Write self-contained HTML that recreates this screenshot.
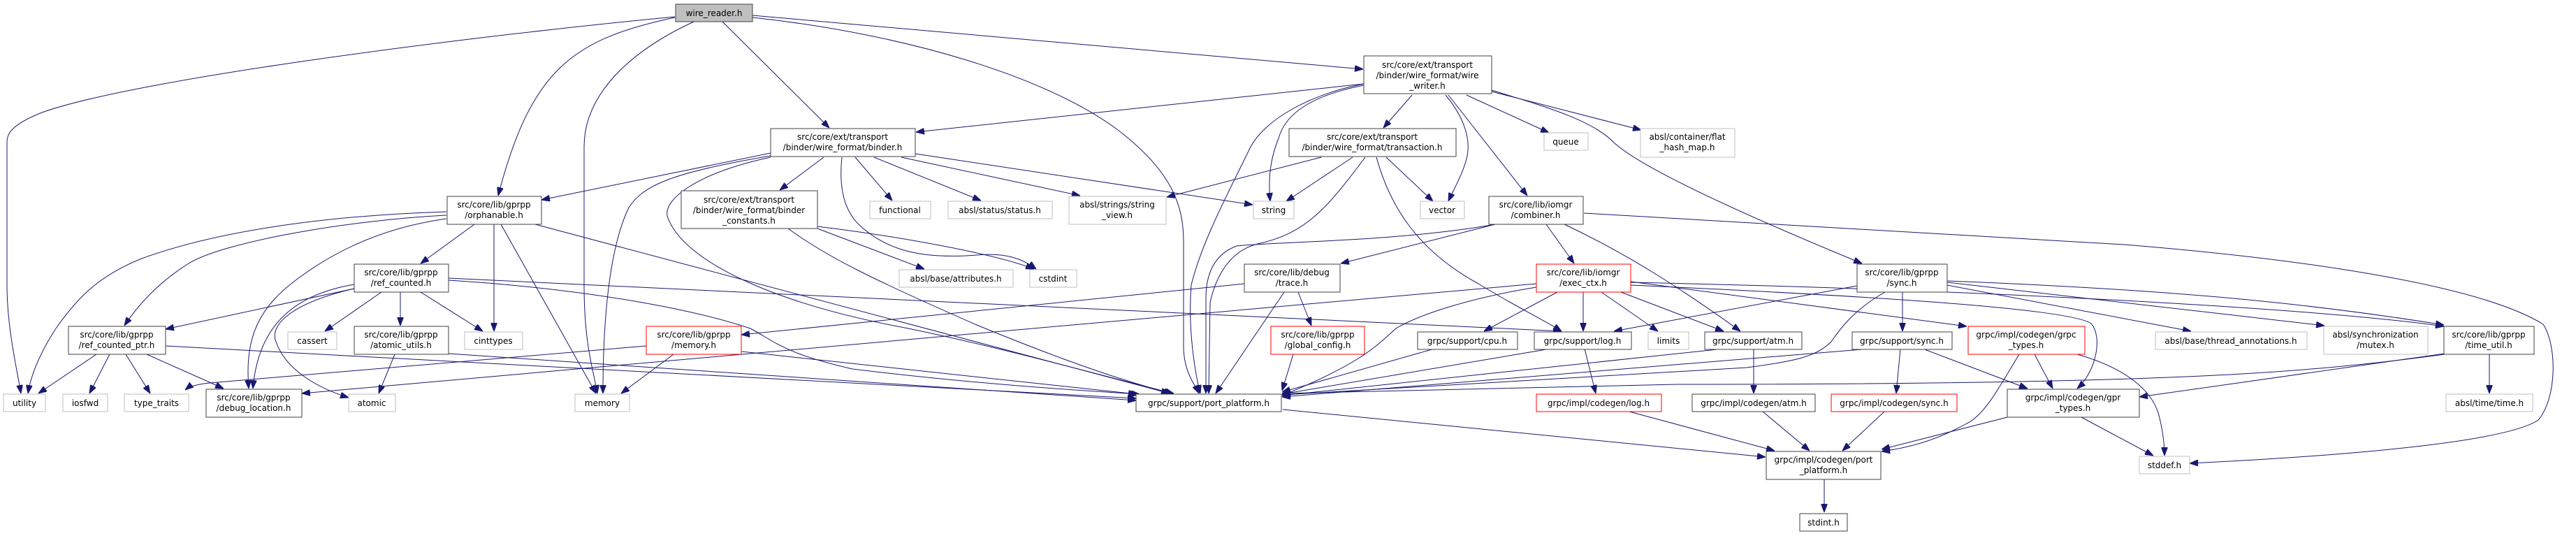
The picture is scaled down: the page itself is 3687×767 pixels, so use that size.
<!DOCTYPE html>
<html><head><meta charset="utf-8"><style>
html,body{margin:0;padding:0;background:#fff;}
svg{display:block;}
text{font-family:"DejaVu Sans","Liberation Sans",sans-serif;font-size:12px;fill:#000;text-anchor:middle;}
.e{fill:none;stroke:#191970;stroke-width:1;marker-end:url(#a);}
.n{fill:#fff;stroke:#404040;stroke-width:1;}
.g{fill:#fff;stroke:#bfbfbf;stroke-width:1;}
.r{fill:#fff;stroke:#ff0000;stroke-width:1;}
</style></head><body>
<svg width="3687" height="767" viewBox="0 0 3687 767" xmlns="http://www.w3.org/2000/svg">
<defs><marker id="a" markerWidth="12" markerHeight="9" refX="12" refY="4.5" orient="auto" markerUnits="userSpaceOnUse"><path d="M0,0 L12,4.5 L0,9 z" fill="#191970" stroke="#191970"/></marker></defs>
<g>
<path class="e" d="M966,24 C700,49 200,111 60,161 C15,179 10,192 10,204 L10,408 C10,470 25,532 30,563"/>
<path class="e" d="M966,25 C820,56 760,99 713,280"/>
<path class="e" d="M993,31 C900,74 836,136 836,210 L836,408 C836,495 850,532 855,563"/>
<path class="e" d="M1034,31 L1187,183"/>
<path class="e" d="M1077,25 C1300,49 1500,111 1600,186 C1680,247 1694,297 1694,346 L1694,495 C1694,532 1710,550 1716,563"/>
<path class="e" d="M1077,22 L1951,99"/>
<path class="e" d="M1103,219 L775,286"/>
<path class="e" d="M1103,223 C960,247 920,266 900,297 C870,359 863,470 863,563"/>
<path class="e" d="M1103,225 C1000,247 950,284 955,309 C975,371 1100,433 1300,470 C1450,501 1600,544 1680,563"/>
<path class="e" d="M1179,225 L1116,272"/>
<path class="e" d="M1224,225 L1277,287"/>
<path class="e" d="M1251,225 L1404,287"/>
<path class="e" d="M1290,225 L1546,280"/>
<path class="e" d="M1310,220 L1793,293"/>
<path class="e" d="M1205,225 C1200,272 1210,303 1230,322 C1270,359 1320,371 1398,365 C1440,361 1465,371 1483,385"/>
<path class="e" d="M1170,327 L1323,385"/>
<path class="e" d="M1170,324 C1300,340 1430,365 1480,385"/>
<path class="e" d="M1128,327 C1180,365 1240,396 1398,465 C1500,507 1600,544 1678,563"/>
<path class="e" d="M679,321 L602,377"/>
<path class="e" d="M707,321 L707,474"/>
<path class="e" d="M717,321 L853,563"/>
<path class="e" d="M766,321 L1674,563"/>
<path class="e" d="M639,308 C500,315 320,346 270,377 C230,402 200,433 178,466"/>
<path class="e" d="M639,303 C450,309 300,334 200,371 C140,396 110,427 80,470 C60,501 45,532 40,563"/>
<path class="e" d="M639,313 C560,324 490,352 430,396 C370,439 350,482 356,556"/>
<path class="e" d="M507,413 L237,471"/>
<path class="e" d="M546,418 L465,474"/>
<path class="e" d="M573,418 L573,466"/>
<path class="e" d="M602,418 L691,474"/>
<path class="e" d="M507,407 C430,420 370,458 362,556"/>
<path class="e" d="M507,413 C420,433 385,464 395,489 C410,532 460,557 499,569"/>
<path class="e" d="M642,398 L2235,474"/>
<path class="e" d="M642,401 C850,414 1000,445 1074,470 C1110,489 1120,505 1220,528 C1400,550 1550,559 1631,564"/>
<path class="e" d="M138,507 L55,563"/>
<path class="e" d="M157,507 L128,563"/>
<path class="e" d="M180,507 L215,563"/>
<path class="e" d="M210,507 L320,556"/>
<path class="e" d="M237,495 L1626,570"/>
<path class="e" d="M565,507 L542,563"/>
<path class="e" d="M642,506 L1626,573"/>
<path class="e" d="M925,495 L300,548 C280,550 270,554 265,558"/>
<path class="e" d="M964,507 L889,563"/>
<path class="e" d="M1061,503 L1627,564"/>
<path class="e" d="M1781,406 L1061,479"/>
<path class="e" d="M1858,418 L1877,466"/>
<path class="e" d="M1838,418 L1740,563"/>
<path class="e" d="M2140,321 L1919,377"/>
<path class="e" d="M2213,321 L2253,377"/>
<path class="e" d="M2140,321 C2000,346 1820,346 1770,352 C1735,365 1726,396 1726,427 L1726,563"/>
<path class="e" d="M2239,321 C2320,359 2400,408 2491,474"/>
<path class="e" d="M2267,305 L3040,350 C3300,371 3550,408 3640,464 C3660,495 3660,569 3633,601 C3580,637 3300,655 3134,663"/>
<path class="e" d="M2229,418 L2124,474"/>
<path class="e" d="M2266,418 L2266,474"/>
<path class="e" d="M2292,418 L2373,474"/>
<path class="e" d="M2199,411 C2100,427 2030,451 1998,470 C1970,495 1950,519 1835,566"/>
<path class="e" d="M2199,406 L432,563"/>
<path class="e" d="M2320,418 L2467,474"/>
<path class="e" d="M2334,403 L2815,467"/>
<path class="e" d="M2334,408 C2600,420 2960,439 2993,463 C3010,482 3000,532 2973,556"/>
<path class="e" d="M2334,404 C2800,414 3300,439 3498,467"/>
<path class="e" d="M1952,120 L1311,189"/>
<path class="e" d="M2021,136 L1980,183"/>
<path class="e" d="M1952,122 C1880,136 1840,161 1830,198 C1815,235 1816,266 1818,288"/>
<path class="e" d="M1952,120 C1870,136 1810,173 1790,210 C1760,272 1720,346 1705,408 C1700,470 1710,532 1718,563"/>
<path class="e" d="M2069,136 C2095,167 2105,198 2100,223 C2095,247 2080,272 2073,288"/>
<path class="e" d="M2073,136 L2186,280"/>
<path class="e" d="M2099,136 L2217,190"/>
<path class="e" d="M2135,131 L2349,186"/>
<path class="e" d="M2135,129 C2220,155 2280,173 2310,204 C2350,241 2500,309 2665,377"/>
<path class="e" d="M1891,225 L1670,282"/>
<path class="e" d="M1936,225 L1841,288"/>
<path class="e" d="M1984,225 L2051,288"/>
<path class="e" d="M1954,225 C1900,297 1870,334 1800,349 C1760,359 1740,396 1732,433 L1730,563"/>
<path class="e" d="M1970,225 C1990,297 2030,359 2116,406 C2170,439 2210,458 2235,474"/>
<path class="e" d="M1851,507 L1835,559"/>
<path class="e" d="M2053,499 L1835,561"/>
<path class="e" d="M2219,499 L1835,564"/>
<path class="e" d="M2268,499 L2284,563"/>
<path class="e" d="M2467,499 L1835,566"/>
<path class="e" d="M2510,499 L2510,563"/>
<path class="e" d="M2677,499 L1835,568"/>
<path class="e" d="M2720,499 L2714,563"/>
<path class="e" d="M2752,499 L2902,556"/>
<path class="e" d="M2723,418 L2723,474"/>
<path class="e" d="M2698,418 C2650,445 2630,476 2621,489 C2600,510 2570,517 2500,526 L1835,565"/>
<path class="e" d="M2658,409 L2310,474"/>
<path class="e" d="M2787,408 L3136,474"/>
<path class="e" d="M2787,404 L3327,466"/>
<path class="e" d="M2787,402 C3100,414 3300,433 3498,465"/>
<path class="e" d="M2890,507 C2860,557 2840,594 2815,606 C2770,631 2730,641 2693,646"/>
<path class="e" d="M2912,507 L2938,556"/>
<path class="e" d="M2973,507 C3040,526 3080,557 3090,594 C3096,618 3098,637 3098,652"/>
<path class="e" d="M2877,596 L2693,643"/>
<path class="e" d="M2977,596 L3082,652"/>
<path class="e" d="M3499,506 L3062,568"/>
<path class="e" d="M3499,507 C3300,534 3100,550 2400,550 L1835,563"/>
<path class="e" d="M3563,507 L3563,563"/>
<path class="e" d="M2332,589 L2540,645"/>
<path class="e" d="M2523,589 L2590,645"/>
<path class="e" d="M2697,589 L2637,645"/>
<path class="e" d="M1836,586 L2527,654"/>
<path class="e" d="M2611,685 L2611,733"/>
</g>
<g>
<rect class="n" x="967" y="6" width="110" height="25" style="fill:#bfbfbf"/><text x="1022" y="23">wire_reader.h</text>
<rect class="n" x="1952" y="80" width="183" height="54"/><text x="2043" y="97">src/core/ext/transport</text><text x="2043" y="112">/binder/wire_format/wire</text><text x="2043" y="127">_writer.h</text>
<rect class="n" x="1103" y="184" width="207" height="40"/><text x="1206" y="200">src/core/ext/transport</text><text x="1206" y="215">/binder/wire_format/binder.h</text>
<rect class="n" x="1845" y="184" width="239" height="40"/><text x="1964" y="200">src/core/ext/transport</text><text x="1964" y="215">/binder/wire_format/transaction.h</text>
<rect class="g" x="2210" y="190" width="63" height="25"/><text x="2241" y="207">queue</text>
<rect class="g" x="2348" y="184" width="135" height="41"/><text x="2415" y="200">absl/container/flat</text><text x="2415" y="215">_hash_map.h</text>
<rect class="n" x="640" y="281" width="135" height="40"/><text x="707" y="297">src/core/lib/gprpp</text><text x="707" y="312">/orphanable.h</text>
<rect class="n" x="975" y="273" width="195" height="54"/><text x="1072" y="290">src/core/ext/transport</text><text x="1072" y="305">/binder/wire_format/binder</text><text x="1072" y="320">_constants.h</text>
<rect class="g" x="1245" y="288" width="87" height="25"/><text x="1288" y="305">functional</text>
<rect class="g" x="1357" y="288" width="149" height="25"/><text x="1431" y="305">absl/status/status.h</text>
<rect class="g" x="1530" y="281" width="139" height="40"/><text x="1599" y="297">absl/strings/string</text><text x="1599" y="312">_view.h</text>
<rect class="g" x="1794" y="288" width="58" height="25"/><text x="1823" y="305">string</text>
<rect class="g" x="2033" y="288" width="63" height="25"/><text x="2064" y="305">vector</text>
<rect class="n" x="2131" y="281" width="135" height="40"/><text x="2198" y="297">src/core/lib/iomgr</text><text x="2198" y="312">/combiner.h</text>
<rect class="n" x="507" y="378" width="135" height="40"/><text x="574" y="394">src/core/lib/gprpp</text><text x="574" y="409">/ref_counted.h</text>
<rect class="g" x="1287" y="386" width="163" height="25"/><text x="1368" y="403">absl/base/attributes.h</text>
<rect class="g" x="1474" y="386" width="67" height="25"/><text x="1507" y="403">cstdint</text>
<rect class="n" x="1781" y="378" width="137" height="40"/><text x="1849" y="394">src/core/lib/debug</text><text x="1849" y="409">/trace.h</text>
<rect class="r" x="2199" y="378" width="135" height="40"/><text x="2266" y="394">src/core/lib/iomgr</text><text x="2266" y="409">/exec_ctx.h</text>
<rect class="n" x="2658" y="378" width="129" height="40"/><text x="2722" y="394">src/core/lib/gprpp</text><text x="2722" y="409">/sync.h</text>
<rect class="n" x="98" y="467" width="139" height="40"/><text x="167" y="483">src/core/lib/gprpp</text><text x="167" y="498">/ref_counted_ptr.h</text>
<rect class="g" x="412" y="475" width="70" height="25"/><text x="447" y="492">cassert</text>
<rect class="n" x="507" y="467" width="135" height="40"/><text x="574" y="483">src/core/lib/gprpp</text><text x="574" y="498">/atomic_utils.h</text>
<rect class="g" x="665" y="475" width="83" height="25"/><text x="706" y="492">cinttypes</text>
<rect class="r" x="925" y="467" width="136" height="40"/><text x="993" y="483">src/core/lib/gprpp</text><text x="993" y="498">/memory.h</text>
<rect class="r" x="1819" y="467" width="134" height="40"/><text x="1886" y="483">src/core/lib/gprpp</text><text x="1886" y="498">/global_config.h</text>
<rect class="n" x="2029" y="475" width="143" height="25"/><text x="2100" y="492">grpc/support/cpu.h</text>
<rect class="n" x="2196" y="475" width="139" height="25"/><text x="2265" y="492">grpc/support/log.h</text>
<rect class="g" x="2359" y="475" width="58" height="25"/><text x="2388" y="492">limits</text>
<rect class="n" x="2440" y="475" width="139" height="25"/><text x="2509" y="492">grpc/support/atm.h</text>
<rect class="n" x="2651" y="475" width="143" height="25"/><text x="2722" y="492">grpc/support/sync.h</text>
<rect class="r" x="2817" y="467" width="167" height="40"/><text x="2900" y="483">grpc/impl/codegen/grpc</text><text x="2900" y="498">_types.h</text>
<rect class="g" x="3085" y="475" width="217" height="25"/><text x="3193" y="492">absl/base/thread_annotations.h</text>
<rect class="g" x="3326" y="467" width="149" height="40"/><text x="3400" y="483">absl/synchronization</text><text x="3400" y="498">/mutex.h</text>
<rect class="n" x="3498" y="467" width="129" height="40"/><text x="3562" y="483">src/core/lib/gprpp</text><text x="3562" y="498">/time_util.h</text>
<rect class="g" x="5" y="564" width="60" height="25"/><text x="35" y="581">utility</text>
<rect class="g" x="90" y="564" width="64" height="25"/><text x="122" y="581">iosfwd</text>
<rect class="g" x="178" y="564" width="92" height="25"/><text x="224" y="581">type_traits</text>
<rect class="n" x="295" y="557" width="137" height="40"/><text x="363" y="573">src/core/lib/gprpp</text><text x="363" y="588">/debug_location.h</text>
<rect class="g" x="499" y="564" width="67" height="25"/><text x="532" y="581">atomic</text>
<rect class="g" x="823" y="564" width="78" height="25"/><text x="862" y="581">memory</text>
<rect class="n" x="1626" y="564" width="208" height="25"/><text x="1730" y="581">grpc/support/port_platform.h</text>
<rect class="r" x="2199" y="564" width="179" height="25"/><text x="2288" y="581">grpc/impl/codegen/log.h</text>
<rect class="n" x="2422" y="564" width="176" height="25"/><text x="2510" y="581">grpc/impl/codegen/atm.h</text>
<rect class="r" x="2621" y="564" width="180" height="25"/><text x="2711" y="581">grpc/impl/codegen/sync.h</text>
<rect class="n" x="2873" y="557" width="189" height="40"/><text x="2967" y="573">grpc/impl/codegen/gpr</text><text x="2967" y="588">_types.h</text>
<rect class="g" x="3501" y="564" width="124" height="25"/><text x="3563" y="581">absl/time/time.h</text>
<rect class="n" x="2528" y="646" width="164" height="40"/><text x="2610" y="662">grpc/impl/codegen/port</text><text x="2610" y="677">_platform.h</text>
<rect class="g" x="3062" y="653" width="72" height="25"/><text x="3098" y="670">stddef.h</text>
<rect class="n" x="2576" y="735" width="68" height="25"/><text x="2610" y="752">stdint.h</text>
</g>
</svg>
</body></html>
